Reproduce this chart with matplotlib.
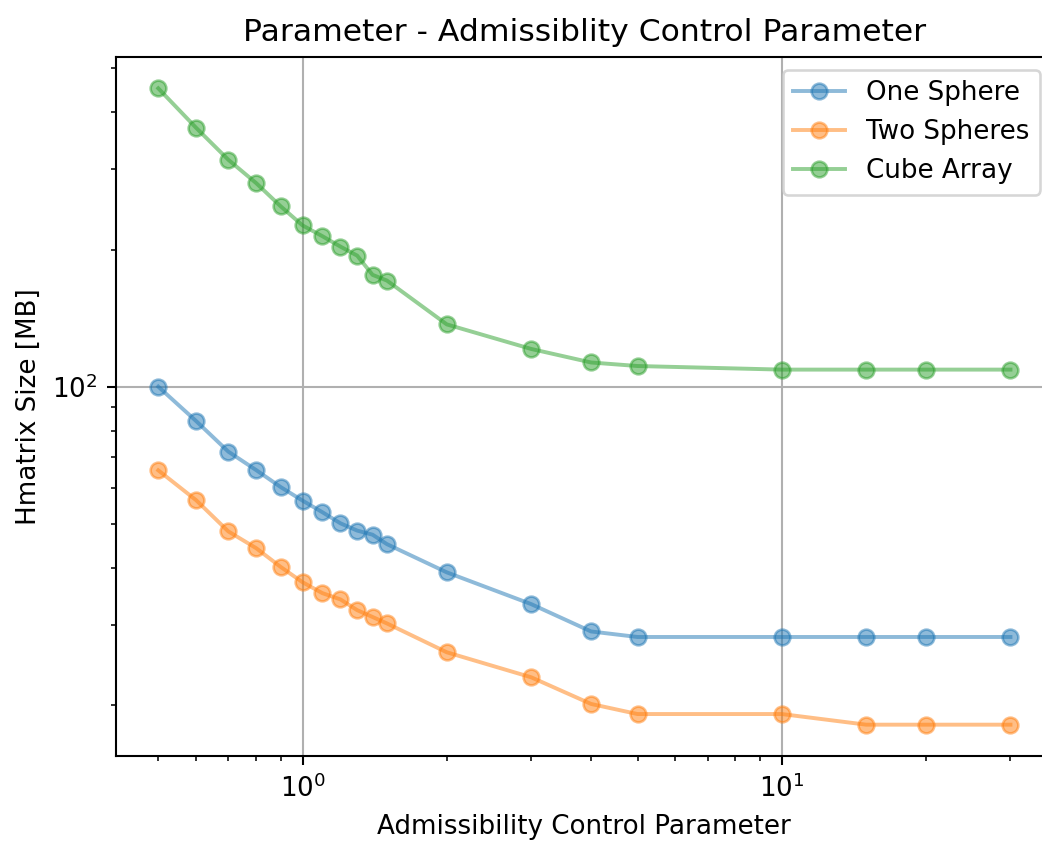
import matplotlib
matplotlib.use("Agg")
import matplotlib.pyplot as plt

# Admissibility parameter sweep
eta = [0.5, 0.6, 0.7, 0.8, 0.9, 1.0, 1.1, 1.2, 1.3, 1.4, 1.5, 2, 3, 4, 5, 10, 15, 20, 30]

# H-matrix memory in MB
one_sphere = [100, 84, 72, 65.6, 60.2, 56.2, 53, 50.1, 48.3, 47.3, 45.1,
              39.1, 33.3, 29.0, 28.2, 28.2, 28.2, 28.2, 28.2]
two_spheres = [65.5, 56.3, 48.1, 44.2, 40.2, 37.2, 35.2, 34.1, 32.3, 31.2, 30.2,
               26.1, 23.0, 20.1, 19.1, 19.1, 18.1, 18.1, 18.1]
cube_array = [452, 370, 315, 280, 249, 226, 214, 203, 194, 176, 171,
              137, 121, 113, 111, 109, 109, 109, 109]

dpi = 188
fig, ax = plt.subplots(figsize=(1042 / dpi, 846 / dpi), dpi=dpi)
# axes runs slightly past the right edge of the canvas
fig.subplots_adjust(left=0.111, right=1.0106, top=0.9332, bottom=0.1058)

ax.plot(eta, one_sphere, "o-", alpha=0.5, label="One Sphere")
ax.plot(eta, two_spheres, "o-", alpha=0.5, label="Two Spheres")
ax.plot(eta, cube_array, "o-", alpha=0.5, label="Cube Array")

ax.set_xscale("log")
ax.set_yscale("log")
ax.grid()
ax.set_xlabel("Admissibility Control Parameter")
ax.set_ylabel("Hmatrix Size [MB]")
ax.set_title("Parameter - Admissiblity Control Parameter")
ax.legend()

fig.savefig("out.png", dpi=dpi)
